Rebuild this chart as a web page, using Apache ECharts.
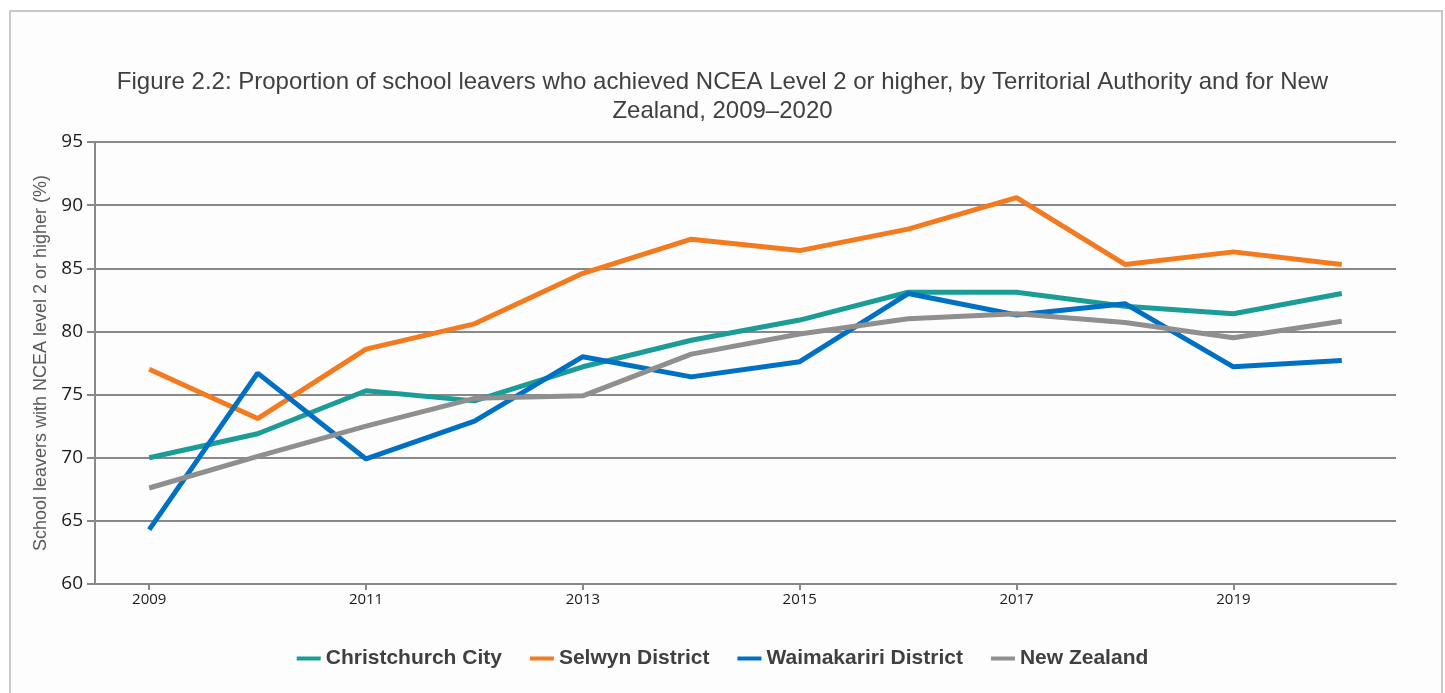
<!DOCTYPE html>
<html lang="en">

<head>
    <meta charset="UTF-8">
    <title>Figure 2.2</title>
    <style>
        html, body { margin: 0; padding: 0; background: #fff; }
    </style>
</head>

<body>
    <div id="main" style="width: 1445px;height:693px;"></div>
    <script src="https://cdn.jsdelivr.net/npm/echarts@6/dist/echarts.min.js"></script>
    <script>
        var years = ['2009', '2010', '2011', '2012', '2013', '2014', '2015', '2016', '2017', '2018', '2019', '2020'];
        var christchurch = [70.0, 71.9, 75.3, 74.5, 77.2, 79.3, 80.9, 83.1, 83.1, 82.0, 81.4, 83.0];
        var selwyn = [77.0, 73.1, 78.6, 80.6, 84.6, 87.3, 86.4, 88.1, 90.6, 85.3, 86.3, 85.3];
        var waimakariri = [64.3, 76.7, 69.9, 72.9, 78.0, 76.4, 77.6, 83.0, 81.3, 82.2, 77.2, 77.7];
        var newZealand = [67.6, 70.1, 72.5, 74.7, 74.9, 78.2, 79.8, 81.0, 81.4, 80.7, 79.5, 80.8];

        var myChart = echarts.init(document.getElementById('main'));

        function line(name, data, color) {
            return {
                name: name,
                type: 'line',
                data: data,
                symbol: 'none',
                lineStyle: { color: color, width: 5 },
                itemStyle: { color: color }
            };
        }

        option = {
            backgroundColor: '#fff',
            animation: false,
            graphic: [{
                type: 'rect',
                shape: { x: 10, y: 11, width: 1432, height: 700 },
                style: { fill: '#fdfdfd', stroke: '#c8c8c8', lineWidth: 2 },
                z: -10
            }],
            title: {
                text: 'Figure 2.2: Proportion of school leavers who achieved NCEA Level 2 or higher, by Territorial Authority and for New\nZealand, 2009\u20132020',
                left: 'center',
                top: 63,
                textStyle: {
                    fontFamily: 'Liberation Sans, Arial, sans-serif',
                    fontSize: 24,
                    fontWeight: 'normal',
                    color: '#404040',
                    lineHeight: 29
                }
            },
            legend: {
                bottom: 19,
                left: 'center',
                itemWidth: 24,
                itemHeight: 4,
                itemGap: 28,
                icon: 'rect',
                textStyle: {
                    fontFamily: 'Liberation Sans, Arial, sans-serif',
                    fontSize: 21,
                    fontWeight: 'bold',
                    color: '#404040'
                }
            },
            grid: {
                left: 95,
                right: 49,
                top: 142,
                bottom: 109
            },
            xAxis: {
                type: 'category',
                data: years,
                boundaryGap: true,
                axisLine: { lineStyle: { color: '#888', width: 2 } },
                axisTick: { show: true, alignWithLabel: true, interval: 1, length: 6, lineStyle: { color: '#888', width: 2 } },
                axisLabel: {
                    interval: 1,
                    margin: 8,
                    fontFamily: 'Open Sans, DejaVu Sans, sans-serif',
                    fontSize: 15,
                    color: '#1a1a1a'
                }
            },
            yAxis: {
                type: 'value',
                min: 60,
                max: 95,
                interval: 5,
                name: 'School leavers with NCEA level 2 or higher (%)',
                nameLocation: 'middle',
                nameGap: 43,
                nameRotate: 90,
                nameTextStyle: {
                    fontFamily: 'Liberation Sans, Arial, sans-serif',
                    fontSize: 18,
                    color: '#595959'
                },
                axisLine: { show: true, lineStyle: { color: '#888', width: 2 } },
                axisTick: { show: true, length: 8, lineStyle: { color: '#888', width: 2 } },
                axisLabel: {
                    margin: 12,
                    fontFamily: 'Open Sans, DejaVu Sans, sans-serif',
                    fontSize: 19,
                    color: '#1a1a1a'
                },
                splitLine: { lineStyle: { color: '#888', width: 2 } }
            },
            series: [
                line('Christchurch City', christchurch, '#1b9c96'),
                line('Selwyn District', selwyn, '#f47a20'),
                line('Waimakariri District', waimakariri, '#0070c4'),
                line('New Zealand', newZealand, '#8f8f8f')
            ]
        };
        myChart.setOption(option);
    </script>
</body>

</html>
